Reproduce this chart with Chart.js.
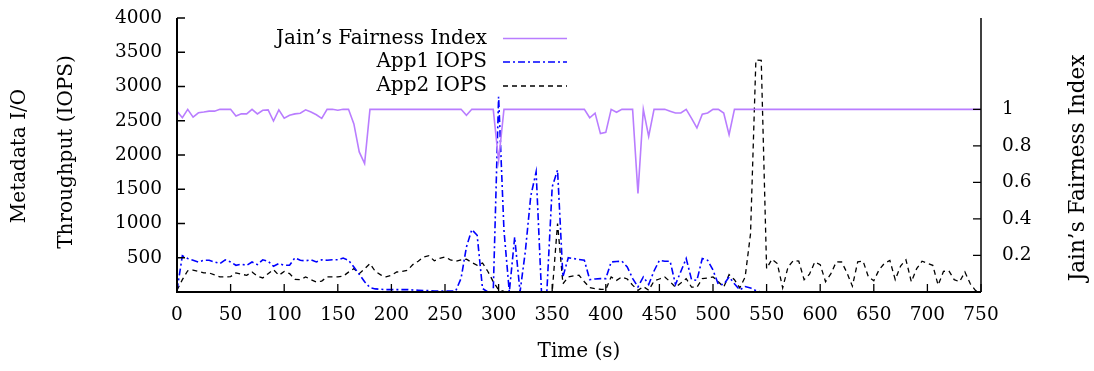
<!DOCTYPE html>
<html><head><meta charset="utf-8">
<script src="https://cdn.jsdelivr.net/npm/chart.js@4.4.1/dist/chart.umd.min.js"></script>
<style>html,body{margin:0;padding:0;background:#fff;}#wrap{width:1094px;height:371px;}</style>
</head><body><div id="wrap"><canvas id="c" width="1094" height="371"></canvas></div>
<script>
// ---- data ----
const times = [
  0,5,10,15,20,25,30,35,40,45,
  50,55,60,65,70,75,80,85,90,95,
  100,105,110,115,120,125,130,135,140,145,
  150,155,160,165,170,175,180,185,190,195,
  200,205,210,215,220,225,230,235,240,245,
  250,255,260,265,270,275,280,285,290,295,
  300,305,310,315,320,325,330,335,340,345,
  350,355,360,365,370,375,380,385,390,395,
  400,405,410,415,420,425,430,435,440,445,
  450,455,460,465,470,475,480,485,490,495,
  500,505,510,515,520,525,530,535,540,545,
  550,555,560,565,570,575,580,585,590,595,
  600,605,610,615,620,625,630,635,640,645,
  650,655,660,665,670,675,680,685,690,695,
  700,705,710,715,720,725,730,735,740,745,
  750];
const fairness = [
  0.99,0.954,1.0,0.957,0.981,0.985,0.99,0.99,1.0,1.0,
  1.0,0.963,0.976,0.975,1.0,0.975,0.995,0.997,0.936,0.997,
  0.952,0.968,0.975,0.979,0.997,0.985,0.97,0.95,1.0,1.0,
  0.995,1.0,1.0,0.92,0.767,0.703,1.0,1.0,1.0,1.0,
  1,1,1,1,1,1,1,1,1,1,
  1,1,1,1,0.967,1,1,1,1,1,
  0.72,1,1,1,1,1,1,1,1,1,
  1,1,1,1,1,1,1,0.954,0.979,0.867,
  0.874,1,0.984,1,1,1,0.54,1,0.852,1,
  1,1,0.99,0.98,0.98,1,0.95,0.898,0.973,0.98,
  1,1,0.98,0.861,1,1,1,1,1,1,
  1,1,1,1,1,1,1,1,1,1,
  1,1,1,1,1,1,1,1,1,1,
  1,1,1,1,1,1,1,1,1,1,
  1,1,1,1,1,1,1,1,1,1,
  1];
const app1 = [
  25,530,488,463,438,463,463,438,415,470,
  438,390,405,390,438,400,470,450,375,415,
  390,390,500,463,455,470,438,470,463,470,
  470,495,463,365,258,150,64,45,40,35,
  35,35,35,35,30,25,20,20,15,15,
  15,15,15,200,658,912,828,50,0,0,
  2850,900,0,800,0,600,1400,1754,0,0,
  1535,1780,220,500,488,475,463,181,190,195,
  195,438,445,450,365,200,73,220,110,307,
  463,450,450,110,300,490,180,170,490,463,
  320,110,110,220,120,30,80,60,20,0,
  0,0,0,0,0,0,0,0,0,0,
  0,0,0,0,0,0,0,0,0,0,
  0,0,0,0,0,0,0,0,0,0,
  0,0,0,0,0,0,0,0,0,0,
  0];
const app2 = [
  25,180,310,320,300,280,278,250,220,220,
  225,278,260,244,293,230,205,268,327,244,
  300,268,185,180,220,180,146,160,220,220,
  220,230,290,341,268,340,415,300,250,220,
  244,292,300,317,400,450,510,530,455,490,
  512,470,448,470,480,430,390,424,300,150,
  30,10,0,0,0,0,0,0,0,0,
  0,1000,120,220,235,244,150,64,50,40,
  35,220,170,220,190,100,25,80,25,160,
  190,220,150,70,130,195,70,70,195,205,
  220,150,70,254,180,60,220,850,3386,3380,
  341,480,415,60,365,460,450,180,260,438,
  400,150,268,440,438,280,85,440,450,220,
  165,327,420,460,180,380,470,150,341,450,
  420,390,100,300,310,180,150,292,120,20,
  0];
const xTicks = [0,50,100,150,200,250,300,350,400,450,500,550,600,650,700,750];
const yTicks = [500,1000,1500,2000,2500,3000,3500,4000];
const y2Ticks = [0.2,0.4,0.6,0.8,1];
const y2Labels = ['0.2','0.4','0.6','0.8','1'];
const seriesNames = ['Jain\u2019s Fairness Index','App1 IOPS','App2 IOPS'];

// ---- styling ----
const SERIF = "'DejaVu Serif', 'Liberation Serif', serif";
const styles = [
  {color:'rgb(185,125,255)', width:1.6, dash:[]},
  {color:'#0000ff', width:1.6, dash:[7,3,2,3]},
  {color:'#000000', width:1.3, dash:[5,4]}
];

const pts = arr => times.map((t,i)=>({x:t, y:arr[i]}));

const deco = {
  id:'deco',
  afterDraw(chart){
    const {ctx, chartArea:a, scales} = chart;
    const x = scales.x, y = scales.y, y2 = scales.y2;
    ctx.save();
    ctx.strokeStyle = '#000';
    ctx.setLineDash([]);
    // ticks (inward)
    ctx.lineWidth = 1.3;
    ctx.beginPath();
    xTicks.forEach(v=>{const px=x.getPixelForValue(v); ctx.moveTo(px,a.bottom); ctx.lineTo(px,a.bottom-8);});
    yTicks.forEach(v=>{const py=y.getPixelForValue(v); ctx.moveTo(a.left,py); ctx.lineTo(a.left+8,py);});
    y2Ticks.forEach(v=>{const py=y2.getPixelForValue(v); ctx.moveTo(a.right,py); ctx.lineTo(a.right-8,py);});
    ctx.stroke();
    // axis lines
    ctx.lineWidth = 2;
    ctx.beginPath();
    ctx.moveTo(a.left, a.top); ctx.lineTo(a.left, a.bottom); ctx.lineTo(a.right, a.bottom);
    ctx.stroke();
    ctx.lineWidth = 1.5;
    ctx.beginPath();
    ctx.moveTo(a.right, a.top); ctx.lineTo(a.right, a.bottom);
    ctx.stroke();
    // legend
    ctx.font = "20px " + SERIF;
    ctx.fillStyle = '#000';
    ctx.textAlign = 'right';
    ctx.textBaseline = 'middle';
    const ly = [38.5, 62, 86];
    seriesNames.forEach((n,i)=>{
      ctx.fillText(n, 487, ly[i]);
      ctx.strokeStyle = styles[i].color;
      ctx.lineWidth = styles[i].width;
      ctx.setLineDash(styles[i].dash);
      ctx.beginPath(); ctx.moveTo(503, ly[i]); ctx.lineTo(567, ly[i]); ctx.stroke();
    });
    ctx.setLineDash([]);
    // axis titles
    ctx.textAlign = 'center';
    ctx.font = "20px " + SERIF;
    ctx.fillText('Time (s)', (a.left+a.right)/2, 352);
    const rot = (txt, cx, cy) => { ctx.save(); ctx.translate(cx, cy); ctx.rotate(-Math.PI/2); ctx.fillText(txt, 0, 0); ctx.restore(); };
    rot('Metadata I/O', 20, 156);
    rot('Throughput (IOPS)', 67, 152);
    ctx.font = "21.5px " + SERIF;
    rot('Jain\u2019s Fairness Index', 1078, 168);
    ctx.restore();
  }
};

const fitV = w => s => { s.width = w; s.paddingTop = 0; s.paddingBottom = 0; };
const tickFont = {family: SERIF, size: 18.5};
new Chart(document.getElementById('c'), {
  type:'line',
  data:{datasets:[
    {label:seriesNames[0], data:pts(fairness), yAxisID:'y2', borderColor:styles[0].color, borderWidth:styles[0].width, borderDash:styles[0].dash, pointRadius:0, tension:0, fill:false},
    {label:seriesNames[1], data:pts(app1), yAxisID:'y', borderColor:styles[1].color, borderWidth:styles[1].width, borderDash:styles[1].dash, pointRadius:0, tension:0, fill:false},
    {label:seriesNames[2], data:pts(app2), yAxisID:'y', borderColor:styles[2].color, borderWidth:styles[2].width, borderDash:styles[2].dash, pointRadius:0, tension:0, fill:false}
  ]},
  options:{
    responsive:false, animation:false, devicePixelRatio:1,
    layout:{autoPadding:false, padding:{top:18,left:0,right:0,bottom:0}},
    plugins:{legend:{display:false}, tooltip:{enabled:false}, title:{display:false}},
    scales:{
      x:{type:'linear', min:0, max:750,
         afterBuildTicks(s){ s.ticks = xTicks.map(v=>({value:v})); },
         afterFit(s){ s.height = 79; s.paddingLeft = 0; s.paddingRight = 0; },
         ticks:{font:tickFont, color:'#000', padding:12, maxRotation:0, autoSkip:false, callback:v=>String(v)},
         grid:{display:false, drawTicks:false}, border:{display:false}},
      y:{position:'left', min:0, max:4000,
         afterBuildTicks(s){ s.ticks = yTicks.map(v=>({value:v})); },
         afterFit: fitV(177),
         ticks:{font:tickFont, color:'#000', padding:15, autoSkip:false, callback:v=>String(v)},
         grid:{display:false, drawTicks:false}, border:{display:false}},
      y2:{position:'right', min:0, max:1.5,
         afterBuildTicks(s){ s.ticks = y2Ticks.map(v=>({value:v})); },
         afterFit: fitV(113),
         ticks:{font:tickFont, color:'#000', padding:21, autoSkip:false, callback:(v,i)=>y2Labels[i]},
         grid:{display:false, drawTicks:false}, border:{display:false}}
    }
  },
  plugins:[deco]
});
</script></body></html>
